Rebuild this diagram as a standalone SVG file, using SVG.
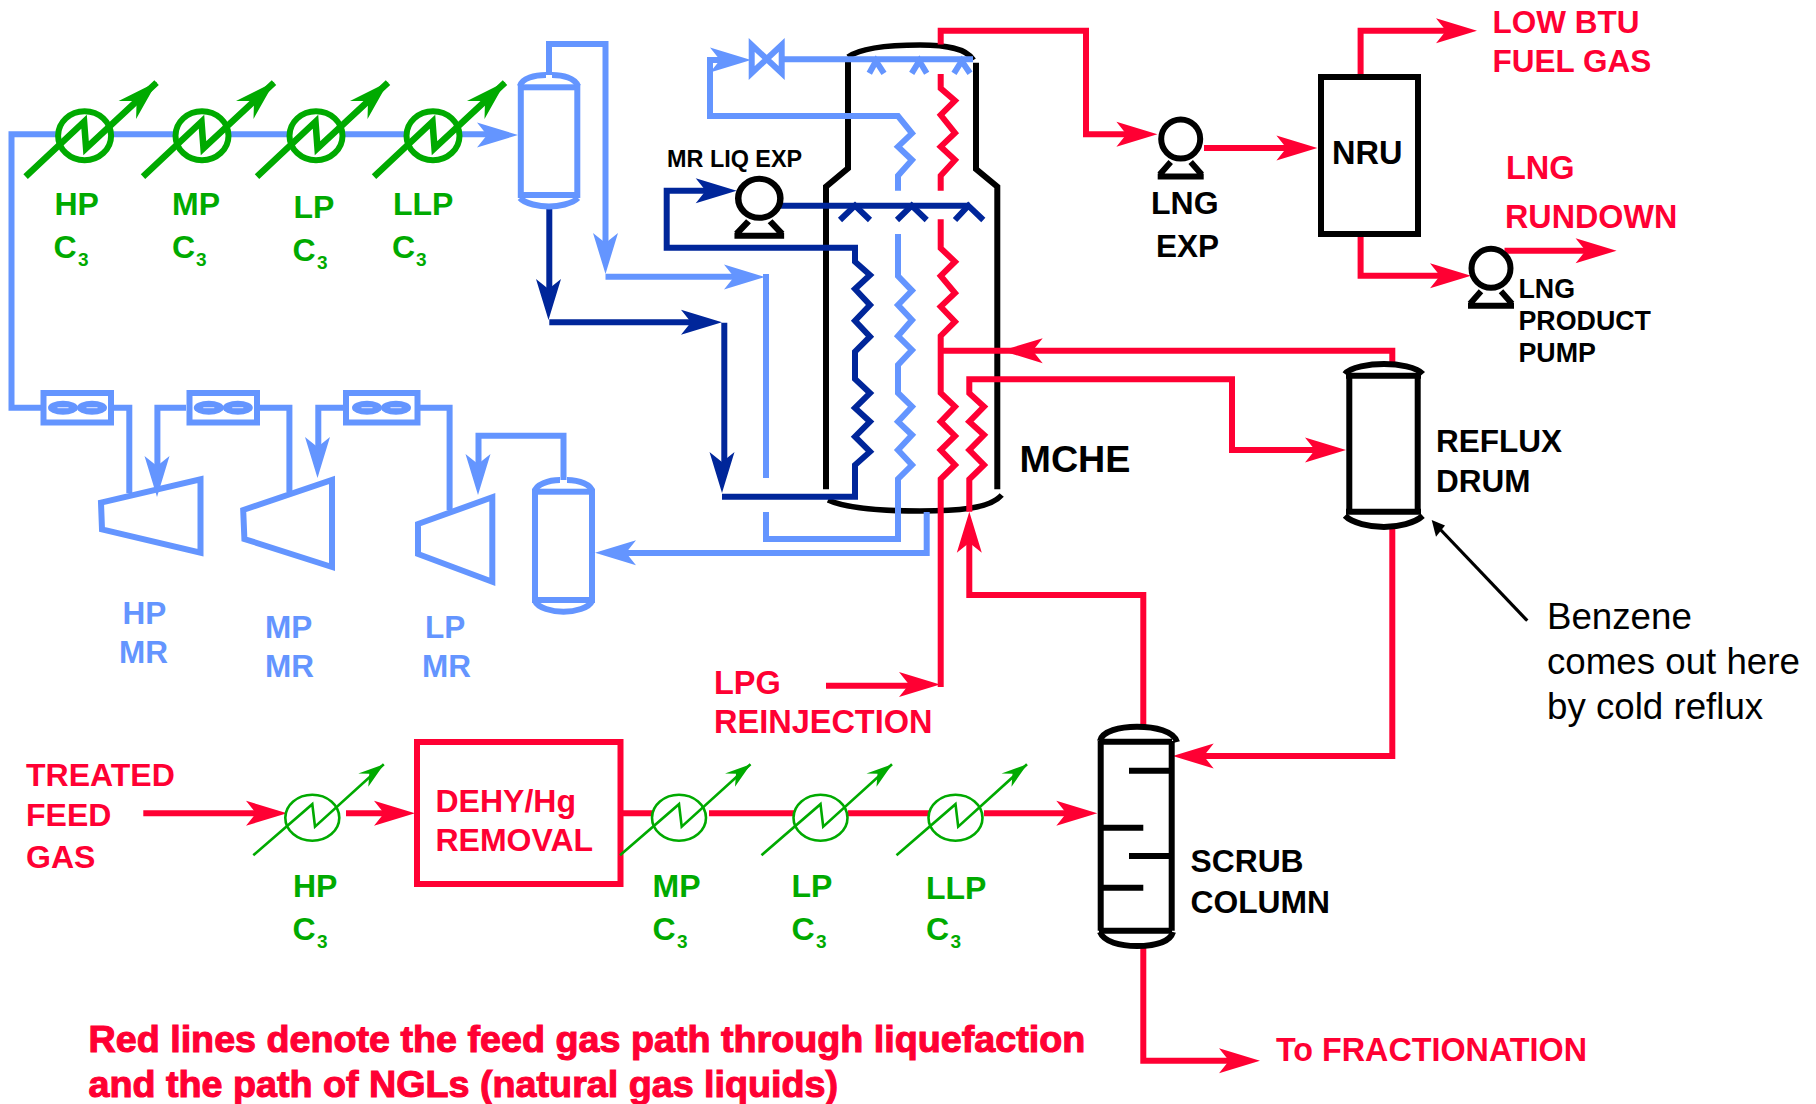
<svg xmlns="http://www.w3.org/2000/svg" width="1816" height="1104" viewBox="0 0 1816 1104">
<style>
text{font-family:"Liberation Sans",Arial,sans-serif;font-weight:700;font-size:31.500px}
.r{fill:#ff0033}.b{fill:#6495ff}.g{fill:#00aa00}.k{fill:#000}.d{fill:#00269a}
.lr,.lb,.ld,.lk,.lg{fill:none;stroke-width:6;stroke-linejoin:miter;stroke-linecap:butt}
.lr{stroke:#ff0033}.lb{stroke:#6495ff}.ld{stroke:#00269a}.lk{stroke:#000}.lg{stroke:#00aa00}
.w{fill:#fff}
.sub{font-size:19px}
.note{font-weight:400;font-size:36.700px}
.small{font-size:26.800px}
.big{font-size:37.700px;stroke:#ff0033;stroke-width:1.100px}
.lbl{font-size:32px}
</style>
<defs>
<polygon id="ah" points="0,0 -41,-12.500 -31,0 -41,12.500"/>
<g id="xbig">
<ellipse cx="0" cy="0" rx="26.500" ry="24.500" class="lg w"/>
<path d="M-59 41L-0.500-14L1.500 12.500L72-53" class="lg" style="stroke-width:6.500"/>
<polygon class="g" points="72.500,-54 34,-34.700 52,-34.700 51.500,-16.700"/>
</g>
<g id="xsmall">
<ellipse cx="0" cy="0" rx="27" ry="23" class="lg w" style="stroke-width:2.600"/>
<path d="M-59 37.500L0-13.500L2.700 9L71.500-53.500" class="lg" style="stroke-width:2.600"/>
<polygon class="g" points="71.700,-53.500 46,-44.300 57,-44 56,-31"/>
</g>
<g id="fan">
<ellipse cx="-14.500" cy="0" rx="15" ry="7" class="b"/><ellipse cx="14.500" cy="0" rx="15" ry="7" class="b"/>
<path d="M-20 0H-9M9 0H20" stroke="#c9d8ff" stroke-width="1.200"/>
</g>
<g id="pump">
<circle cx="0" cy="0" r="19.500" class="lk"/>
<path d="M-10 23L-21 35.500M10 23L21 35.500M-23 37.500H23" class="lk"/>
</g>
</defs>

<g id="node-mche">
<path class="lk" d="M848 60V168.300L826 186.700V489.300M997.300 489.300V186.700L976 169V62.700"/>
<path class="lk" style="stroke-width:5.500" d="M848 57C862 47 895 45 920 45C945 45 966 48 973.500 60"/>
<path class="lk" style="stroke-width:5.500" d="M828 500C850 510 890 511 920 511C955 511 990 509 1001.700 495"/>
<text x="1019.500" y="472" style="font-size:37.700px">MCHE</text>
</g>

<g id="connectors">
<path class="lb" d="M113 407.700H129.300V493"/>
<path class="lb" d="M186 407.700H157.400V470"/>
<use href="#ah" class="b" transform="translate(157,497) rotate(90)"/>
<path class="lb" d="M260 407.700H289.400V492"/>
<path class="lb" d="M343 407.700H318.300V452"/>
<use href="#ah" class="b" transform="translate(317.500,478) rotate(90)"/>
<path class="lb" d="M420 407.700H449.600V510"/>
<path class="lb" d="M563.500 480V435.700H478.500V470"/>
<use href="#ah" class="b" transform="translate(478,495) rotate(90)"/>
<path class="lb" d="M43 407.700H11.500V134.300H490"/>
<use href="#ah" class="b" transform="translate(518,135)"/>
<path class="lb" d="M549 75V44H605.500V250"/>
<use href="#ah" class="b" transform="translate(605.500,274) rotate(90)"/>
<path class="lb" d="M605.500 276.700H740"/>
<use href="#ah" class="b" transform="translate(765,277)"/>
<path class="lb" d="M766 274V478M766 512V539H898V479L912 465L898 450L912 435L898 421.700L912 406.700L898 393V365L912 350L898 336L912 320L898 305L912 290.600L898 276V234M898 190.700V175.700L912 160L898 146.700L912 133.300L898 116H710V60H725"/>
<use href="#ah" class="b" transform="translate(751,60)"/>
<path class="lb" d="M782 59.300H973"/>
<path class="lb" d="M869.300 73.300L876 61L884 73.300M911.700 73.300L919.300 61L926.700 73.300M954 73.300L961.700 61L970 73.300"/>
<path class="lb" d="M926.700 512V553H620"/>
<use href="#ah" class="b" transform="translate(595,552.700) rotate(180)"/>
<path class="ld" d="M549.300 205V295"/>
<use href="#ah" class="d" transform="translate(548.500,320) rotate(90)"/>
<path class="ld" d="M549.300 322.300H697"/>
<use href="#ah" class="d" transform="translate(722,322.300)"/>
<path class="ld" d="M724.300 322.700V470"/>
<use href="#ah" class="d" transform="translate(722,493) rotate(90)"/>
<path class="ld" d="M722 496.700H855V465L870 451.700L855 436.700L870 421.700L855 408L870 393L855 379V351.700L870 336.700L855 320.700L870 305L855 289L870 275L855 261.700V247.700H666.700V190.700H712"/>
<use href="#ah" class="d" transform="translate(736.700,190.700)"/>
<path class="ld" d="M780 205.700H970"/>
<path class="ld" d="M840 220L855 205.700L870 220M897 220L911.700 205.700L926.700 220M955 220L968.300 205.700L983.300 220"/>
<path class="lr" d="M940.700 44.500V30.700H1086V134.300H1132"/>
<use href="#ah" class="r" transform="translate(1157.400,134.300)"/>
<path class="lr" d="M940.700 74V88.300L955 100.700L940.700 115L955 133L940.700 146.700L955 160L940.700 175.700V190.700"/>
<path class="lr" d="M940.700 219.300V248.300L955 261.700L940.700 276L955 293L940.700 306.700L955 321.700L940.700 336V393L955 406.700L940.700 421.700L955 436L940.700 450L955 465L940.700 479V687"/>
<path class="lr" d="M826 685.700H915"/>
<use href="#ah" class="r" transform="translate(940,684.500)"/>
<path class="lr" d="M941 350.700H1392.300V365"/>
<use href="#ah" class="r" transform="translate(1001.700,350.700) rotate(180)"/>
<path class="lr" d="M1143.300 727V595H969.300V530"/>
<use href="#ah" class="r" transform="translate(969.300,511.700) rotate(-90)"/>
<path class="lr" d="M969.300 511.700V479.300L984 465L969.300 450L984 435L969.300 421.700L984 406.700L969.300 393.300V379.300H1232V450H1320"/>
<use href="#ah" class="r" transform="translate(1346,450)"/>
<path class="lr" d="M1392.300 527V756H1195"/>
<use href="#ah" class="r" transform="translate(1172.700,756) rotate(180)"/>
<path class="lr" d="M1143.300 945V1060.700H1235"/>
<use href="#ah" class="r" transform="translate(1260,1060.700)"/>
<path class="lr" d="M1204 148H1292"/>
<use href="#ah" class="r" transform="translate(1317.400,148)"/>
<path class="lr" d="M1360.600 74V30.700H1452"/>
<use href="#ah" class="r" transform="translate(1477,30.700)"/>
<path class="lr" d="M1360.600 234V275.700H1446"/>
<use href="#ah" class="r" transform="translate(1471,275.700)"/>
<path class="lr" d="M1504.500 250.700H1592"/>
<use href="#ah" class="r" transform="translate(1616.600,250.700)"/>
<path class="lr" d="M143.300 813.300H262"/>
<use href="#ah" class="r" transform="translate(287,813.300)"/>
<path class="lr" d="M346 813.300H390"/>
<use href="#ah" class="r" transform="translate(415,813.300)"/>
<path class="lr" d="M621 813.300H654M709 813.300H794M848 813.300H930M984 813.300H1072"/>
<use href="#ah" class="r" transform="translate(1097.300,813.300)"/>
<path class="lk" style="stroke-width:3.200" d="M1527.300 620.700L1438 527"/>
<polygon class="k" points="1431.700,520 1445,525.500 1436,536.700"/>
</g>

<g id="node-valve">
<path class="lb" d="M751.700 45V73L781.700 45V73Z"/>
</g>

<g id="node-hp-c3-top"><use href="#xbig" transform="translate(84.600,135.700)"/>
<text class="g lbl" x="54.500" y="215">HP</text><text class="g lbl" x="53.500" y="258">C</text><text class="g sub" x="78" y="266">3</text></g>
<g id="node-mp-c3-top"><use href="#xbig" transform="translate(202,135.700)"/>
<text class="g lbl" x="172" y="215">MP</text><text class="g lbl" x="172" y="258">C</text><text class="g sub" x="196" y="266">3</text></g>
<g id="node-lp-c3-top"><use href="#xbig" transform="translate(316,135.700)"/>
<text class="g lbl" x="293.500" y="218">LP</text><text class="g lbl" x="292.500" y="261">C</text><text class="g sub" x="317" y="269">3</text></g>
<g id="node-llp-c3-top"><use href="#xbig" transform="translate(433,135.700)"/>
<text class="g lbl" x="393" y="215">LLP</text><text class="g lbl" x="392" y="258">C</text><text class="g sub" x="416" y="266">3</text></g>

<g id="node-hp-drum">
<rect x="520.800" y="87.300" width="56.500" height="107.700" class="lb"/>
<path class="lb" d="M520 86C522 78 535 75 546 75M552 75C563 75 575 78 578 86"/>
<path class="lb" d="M520 198C525 204 540 206.500 549 206.500C558 206.500 572 204 578 198"/>
</g>

<g id="node-cooler1"><rect x="43.500" y="393" width="67.500" height="29.500" class="lb"/><use href="#fan" transform="translate(77.500,407.700)"/></g>
<g id="node-cooler2"><rect x="189.500" y="393" width="67.500" height="29.500" class="lb"/><use href="#fan" transform="translate(223.300,407.700)"/></g>
<g id="node-cooler3"><rect x="346" y="393" width="71.500" height="29.500" class="lb"/><use href="#fan" transform="translate(381.500,407.700)"/></g>

<g id="node-hp-mr"><polygon points="101,502.700 200.500,479.300 200.500,552.700 102,529.300" class="lb"/>
<text class="b" x="122.500" y="624">HP</text><text class="b" x="119" y="663">MR</text></g>
<g id="node-mp-mr"><polygon points="243.200,510 332,480 332,567 244.400,539" class="lb"/>
<text class="b" x="265" y="638">MP</text><text class="b" x="265" y="677">MR</text></g>
<g id="node-lp-mr"><polygon points="418,524 492.300,497.300 492.300,581.700 418,554" class="lb"/>
<text class="b" x="425" y="638">LP</text><text class="b" x="422" y="677">MR</text></g>
<g id="node-lp-drum">
<rect x="535" y="491.700" width="57" height="108.300" class="lb"/>
<path class="lb" d="M535 491C536 485 548 480 560 480M567 480C580 480 591 485 592 491"/>
<path class="lb" d="M535 601C538 608 552 611.700 563.500 611.700C575 611.700 589 608 592 601"/>
</g>

<g id="node-mr-liq-exp"><use href="#pump" transform="translate(759.300,198.300) scale(1.080,1)"/>
<text class="k" x="667" y="167" style="font-size:23.400px">MR LIQ EXP</text></g>
<g id="node-lng-exp"><use href="#pump" transform="translate(1180.700,139)"/>
<text class="k" x="1151" y="214" style="font-size:32px">LNG</text><text class="k" x="1156" y="257">EXP</text></g>
<g id="node-nru"><rect x="1321" y="77" width="97" height="157" class="lk"/><text class="k" x="1332" y="164" style="font-size:32.500px">NRU</text></g>
<g id="node-lng-pump"><use href="#pump" transform="translate(1491,268.300)"/>
<text class="k small" x="1518.500" y="297.500">LNG</text><text class="k small" x="1518.500" y="330">PRODUCT</text><text class="k small" x="1518.500" y="361.500">PUMP</text></g>
<g id="node-reflux-drum">
<path class="lk" d="M1349.300 375.700V511.700M1417.700 375.700V511.700M1346 375.700H1421M1346 511.700H1421"/>
<path class="lk" d="M1345 374C1350 367 1370 364 1384 364C1398 364 1417 367 1422.700 374"/>
<path class="lk" d="M1345 515.700C1352 523 1370 527 1384 527C1398 527 1415 523 1422.700 515.700"/>
<text class="k" x="1436" y="452">REFLUX</text><text class="k" x="1436" y="491.500">DRUM</text></g>
<g id="node-scrub">
<path class="lk" d="M1100.700 741V930.700M1171.700 741V930.700M1099 741.700H1172M1099 930.700H1172"/>
<path class="lk" d="M1100 741C1102 731 1120 726.700 1137 726.700C1155 726.700 1174 731 1177 742"/>
<path class="lk" d="M1100 932C1104 942 1120 946 1137 946C1155 946 1170 942 1173 932"/>
<path class="lk" d="M1129 770.700H1170M1103 827.700H1143.300M1129 856H1170M1103 887.700H1143.300"/>
<text class="k" x="1190.500" y="871.500" style="font-size:31.800px">SCRUB</text><text class="k" x="1190.500" y="913" style="font-size:31.800px">COLUMN</text></g>
<g id="node-dehy"><rect x="417" y="742" width="203.500" height="142" class="lr"/>
<text class="r" x="435.500" y="811.500" style="font-size:32px">DEHY/Hg</text><text class="r" x="435.500" y="851" style="font-size:32px">REMOVAL</text></g>

<g id="node-hp-c3"><use href="#xsmall" transform="translate(312.300,817.700)"/>
<text class="g lbl" x="293" y="896.500">HP</text><text class="g lbl" x="292.500" y="939.500">C</text><text class="g sub" x="317" y="948">3</text></g>
<g id="node-mp-c3"><use href="#xsmall" transform="translate(679,817.700)"/>
<text class="g lbl" x="652.500" y="896.500">MP</text><text class="g lbl" x="652.500" y="939.500">C</text><text class="g sub" x="677" y="948">3</text></g>
<g id="node-lp-c3"><use href="#xsmall" transform="translate(820.500,817.700)"/>
<text class="g lbl" x="791.500" y="896.500">LP</text><text class="g lbl" x="791.500" y="939.500">C</text><text class="g sub" x="816" y="948">3</text></g>
<g id="node-llp-c3"><use href="#xsmall" transform="translate(955.500,817.700)"/>
<text class="g lbl" x="926" y="899">LLP</text><text class="g lbl" x="926" y="939.500">C</text><text class="g sub" x="950.500" y="948">3</text></g>

<g id="labels">
<text class="r" x="1492.500" y="33">LOW BTU</text><text class="r" x="1492.500" y="72">FUEL GAS</text>
<text class="r" x="1506" y="179" style="font-size:32.500px">LNG</text><text class="r" x="1505" y="227.500" style="font-size:32.300px">RUNDOWN</text>
<text class="r lbl" x="26" y="786">TREATED</text><text class="r lbl" x="26" y="826">FEED</text><text class="r lbl" x="26" y="868">GAS</text>
<text class="r" x="714" y="694" style="font-size:32.500px">LPG</text><text class="r" x="714" y="733" style="font-size:32.500px">REINJECTION</text>
<text class="r" x="1276" y="1060.500" style="font-size:32.300px">To FRACTIONATION</text>
<text class="k note" x="1547" y="629">Benzene</text><text class="k note" x="1547" y="674">comes out here</text><text class="k note" x="1547" y="719">by cold reflux</text>
<text class="r big" x="88.500" y="1052">Red lines denote the feed gas path through liquefaction</text>
<text class="r big" x="88.500" y="1097">and the path of NGLs (natural gas liquids)</text>
</g>
</svg>
